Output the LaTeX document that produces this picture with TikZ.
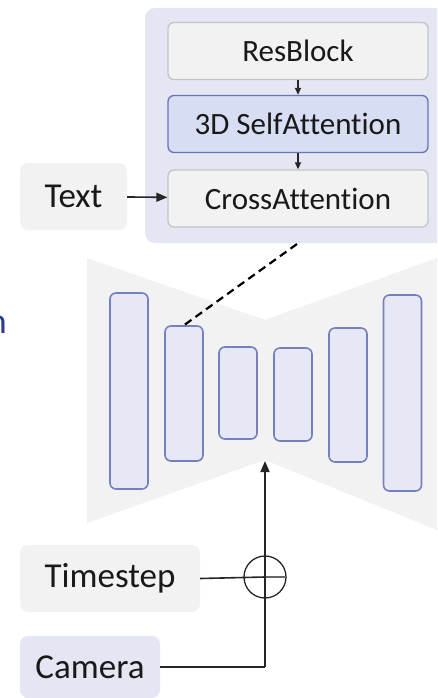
\documentclass[tikz,border=0pt]{standalone}
\usepackage{fontspec}
\setmainfont{Carlito}[Ligatures=NoCommon]
\usetikzlibrary{arrows.meta}
\definecolor{boxgray}{HTML}{F2F2F2}
\definecolor{boxline}{HTML}{C4C4C4}
\definecolor{panelfill}{HTML}{E4E7F3}
\definecolor{safill}{HTML}{D7DDF2}
\definecolor{saline}{HTML}{6874BA}
\definecolor{barfill}{HTML}{E6E9F5}
\definecolor{barline}{HTML}{7680C0}
\definecolor{bluetext}{HTML}{2E3A8C}
\definecolor{inkline}{HTML}{262626}
\tikzset{
  blockbox/.style={draw=boxline, line width=1.3pt, fill=boxgray, rounded corners=6pt,
    minimum width=260pt, minimum height=57pt, inner sep=0pt,
    font=\fontsize{31}{36}\selectfont, text=black!90},
  safbox/.style={blockbox, draw=saline, fill=safill},
  labelbox/.style={fill=boxgray, rounded corners=8pt, inner sep=0pt,
    font=\fontsize{35}{40}\selectfont, text=black!90},
  bar/.style={draw=barline, fill=barfill, line width=1.6pt, rounded corners=6pt,
    minimum width=38pt, inner sep=0pt},
  smallarrow/.style={-{Triangle[length=7pt,width=6pt]}, line width=1.3pt, draw=inkline},
  bigarrow/.style={-{Triangle[length=11pt,width=9pt]}, line width=1.6pt, draw=inkline},
  plainline/.style={line width=1.6pt, draw=inkline}
}
\begin{document}
\begin{tikzpicture}[x=1pt,y=-1pt]
\useasboundingbox (0,0) rectangle (437,698);
\clip (0,0) rectangle (437,698);
% top panel
\fill[panelfill, rounded corners=10pt] (145,8) rectangle (460,243);
\node[blockbox] (res) at (298,51) {ResBlock};
\node[safbox] (sa) at (298,124) {3D SelfAttention};
\node[blockbox] (ca) at (298,198.5) {CrossAttention};
\draw[smallarrow] (res) -- (sa);
\draw[smallarrow] (sa) -- (ca);
\node[labelbox, minimum width=107pt, minimum height=67pt] (text) at (73.5,196.5) {Text};
\draw[bigarrow] (text) -- (ca);
% cropped label on the left (cut by the picture's edge, as in the reference)
\node[anchor=base east, inner sep=0pt, text=bluetext, font=\fontsize{36}{40}\selectfont] (cut) at (7,333) {n};
% U-Net bowtie
\fill[boxgray] (87,258) -- (265,320) -- (437,258) -- (437,530) -- (265,460) -- (87,523) -- cycle;
\node[bar, minimum height=196pt] (b1) at (129,391) {};
\node[bar, minimum height=135pt] (b2) at (184,393.5) {};
\node[bar, minimum height=92pt] (b3) at (238,393) {};
\node[bar, minimum height=93pt] (b4) at (293,394.5) {};
\node[bar, minimum height=134pt] (b5) at (348,395) {};
\node[bar, minimum height=196pt] (b6) at (402.5,393) {};
\coordinate (dtop) at (297,244);
\draw[line width=2.2pt, dash pattern=on 8pt off 5pt] (dtop) -- (b2.north);
% conditioning
\node[labelbox, minimum width=180pt, minimum height=67pt] (time) at (110,578.5) {Timestep};
\node[labelbox, fill=panelfill, minimum width=140pt, minimum height=62pt] (cam) at (90,667) {Camera};
\node[circle, draw=inkline, line width=1.3pt, minimum size=42pt, inner sep=0pt] (plus) at (265,577) {};
\coordinate (corner) at (265,667);
\coordinate (tip) at (265,461);
\draw[plainline] (time.east) -- (plus.center);
\draw[line width=1.2pt, draw=inkline!70] (plus.center) -- (plus.east);
\draw[plainline] (cam.east) -- (corner);
\draw[bigarrow] (corner) -- (tip);
\end{tikzpicture}
\end{document}
